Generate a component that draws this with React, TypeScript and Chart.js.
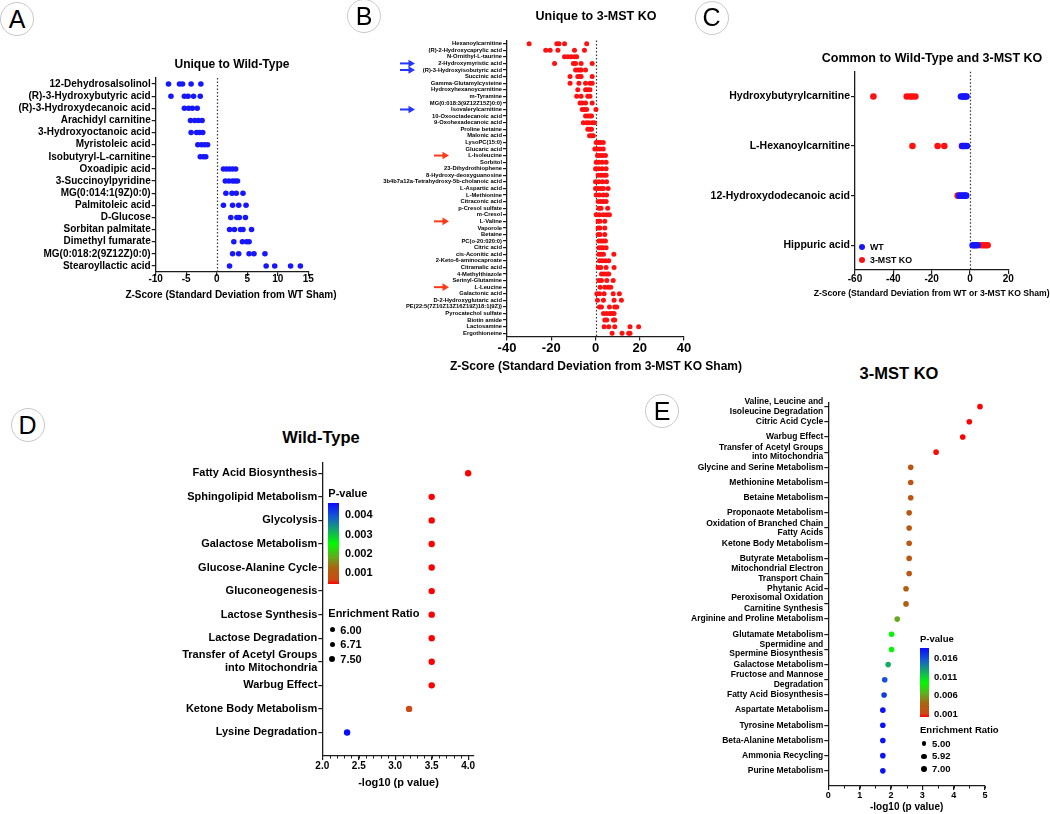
import React, { useEffect, useRef } from 'react';
import { Chart, registerables } from 'chart.js';

Chart.register(...registerables);

const FONT = "'Liberation Sans', Arial, Helvetica, sans-serif";
Chart.defaults.font.family = FONT;
Chart.defaults.color = '#000';

// ---------------- DATA ----------------
const aLabels = [
  '12-Dehydrosalsolinol', '(R)-3-Hydroxybutyric acid', '(R)-3-Hydroxydecanoic acid', 'Arachidyl carnitine',
  '3-Hydroxyoctanoic acid', 'Myristoleic acid', 'Isobutyryl-L-carnitine', 'Oxoadipic acid', '3-Succinoylpyridine',
  'MG(0:014:1(9Z)0:0)', 'Palmitoleic acid', 'D-Glucose', 'Sorbitan palmitate', 'Dimethyl fumarate',
  'MG(0:018:2(9Z12Z)0:0)', 'Stearoyllactic acid',
];
const aValues = [
  [-7.9, -6.1, -5.6, -4.2, -2.6],
  [-7.5, -5.3, -4.7, -3.8, -2.7],
  [-5.3, -4.6, -4.0, -3.2],
  [-4.3, -3.6, -3.0, -2.4],
  [-4.2, -3.3, -2.8, -2.3],
  [-3.1, -2.5, -2.0, -1.5],
  [-2.7, -2.2, -1.8],
  [1.1, 1.6, 2.1, 2.6, 3.1],
  [1.4, 2.0, 2.6, 3.0, 3.4],
  [1.5, 2.5, 3.2, 4.3],
  [1.1, 2.6, 3.6, 4.8],
  [2.3, 3.3, 3.7, 4.7],
  [2.1, 2.9, 3.9, 4.3, 5.7],
  [2.8, 4.2, 4.9, 5.3],
  [2.6, 3.6, 5.3, 6.1, 7.9],
  [2.1, 8.1, 9.5, 12.1, 13.7],
];
const aXTitle = 'Z-Score (Standard Deviation from WT Sham)';

const bLabels = [
  'Hexanoylcarnitine', '(R)-2-Hydroxycaprylic acid', 'N-Ornithyl-L-taurine', '2-Hydroxymyristic acid',
  '(R)-3-Hydroxyisobutyric acid', 'Succinic acid', 'Gamma-Glutamylcysteine', 'Hydroxyhexanoycarnitine',
  'm-Tyramine', 'MG(0:018:3(9Z12Z15Z)0:0)', 'Isovalerylcarnitine', '10-Oxooctadecanoic acid',
  '9-Oxohexadecanoic acid', 'Proline betaine', 'Malonic acid', 'LysoPC(15:0)', 'Glucaric acid', 'L-Isoleucine',
  'Sorbitol', '23-Dihydrothiophene', '8-Hydroxy-deoxyguanosine', '3b4b7a12a-Tetrahydroxy-5b-cholanoic acid',
  'L-Aspartic acid', 'L-Methionine', 'Citraconic acid', 'p-Cresol sulfate', 'm-Cresol', 'L-Valine', 'Vaporole',
  'Betaine', 'PC(o-20:020:0)', 'Citric acid', 'cis-Aconitic acid', '2-Keto-6-aminocaproate', 'Citramalic acid',
  '4-Methylthiazole', 'Serinyl-Glutamine', 'L-Leucine', 'Galactonic acid', 'D-2-Hydroxyglutaric acid',
  'PE(22:5(7Z10Z13Z16Z19Z)18:1(9Z))', 'Pyrocatechol sulfate', 'Biotin amide', 'Lactosamine', 'Ergothioneine',
];
const bValues = [
  [-30, -17.5, -16.5, -14, -4],
  [-22.5, -20.5, -17, -9.5, -5],
  [-14, -12.5, -11, -9.5, -8.5],
  [-18.5, -10, -9, -6.5, -1.5],
  [-9, -8, -7, -6.5, -4.5],
  [-11.5, -8, -7, -6.5, -1.5],
  [-11.5, -7.5, -4.5, -2.5, -1.5],
  [-8, -4.5, -3.5, -2.5],
  [-8.5, -6.5, -3.5, -2.5],
  [-7, -6, -4.5, -1.5],
  [-6, -5, -4, 0.2],
  [-4.5, -3.5, -2.5, -1.8],
  [-5.5, -4, -3, -1.5, -0.5],
  [-3.5, -2.5, -1.8],
  [-2.7, -1.8, -1],
  [0.3, 1.2, 2.2, 3.5],
  [-0.3, 0.8, 2.0, 3.5],
  [0.9, 2.0, 3.2, 4.5],
  [0.3, 1.5, 3.0, 4.8],
  [0, 1.5, 3, 4.8],
  [1.2, 2.5, 3.8, 4.8],
  [0, 1.5, 3.2, 5],
  [0, 1.2, 2.5, 3.6, 5.7],
  [0.3, 1.8, 3.5, 5],
  [1.2, 2.4, 3.6, 4.8],
  [1.5, 2.5, 5.5],
  [0.3, 1.8, 3.5, 5, 6.3],
  [1.2, 2, 4.2],
  [1.2, 2, 4.2],
  [1.2, 2, 4.2],
  [1.5, 2.5, 3.5, 4.5],
  [1.5, 2.5, 3.5, 4.8],
  [1.5, 2.5, 3.6, 8.3],
  [1.8, 3, 4.5, 6],
  [1.2, 2.4, 4.8, 8.4],
  [2.7, 3.8, 5, 6],
  [1.5, 2.7, 5.1, 8],
  [2.1, 4.2, 5.7, 6.9],
  [0.6, 1.8, 3.9, 8, 10.8],
  [0.9, 3.6, 8.4, 11.7],
  [1.8, 2.7, 6.3, 8.7, 9.6],
  [3.6, 5, 6.5, 7.5, 8.4],
  [4.2, 5.1, 8.1, 8.7],
  [3.9, 6, 8.7, 15.6, 19.5],
  [7.5, 12, 15, 15.6],
];
const bBlueArrows = ['2-Hydroxymyristic acid', '(R)-3-Hydroxyisobutyric acid', 'Isovalerylcarnitine'];
const bRedArrows = ['L-Isoleucine', 'L-Valine', 'L-Leucine'];
const bXTitle = 'Z-Score (Standard Deviation from 3-MST KO Sham)';

const cLabels = ['Hydroxybutyrylcarnitine', 'L-Hexanoylcarnitine', '12-Hydroxydodecanoic acid', 'Hippuric acid'];
const cWT = [
  [-4.7, -3.8, -3, -2.4, -1.8],
  [-4, -3.2, -2.5, -1.6],
  [-5.5, -4.5, -3.5, -2.8, -2],
  [1.4, 2.2, 3, 4],
];
const cKO = [
  [-50.4, -33, -31.3, -30, -28.5],
  [-30, -16.9, -13.4, -4.2],
  [-6.4],
  [5.7, 7, 8.2, 9.2],
];
const cSeries = ['WT', '3-MST KO'];
const cXTitle = 'Z-Score (Standard Deviation from WT or 3-MST KO Sham)';

const dLabels = [
  'Fatty Acid Biosynthesis', 'Sphingolipid Metabolism', 'Glycolysis', 'Galactose Metabolism',
  'Glucose-Alanine Cycle', 'Gluconeogenesis', 'Lactose Synthesis', 'Lactose Degradation',
  'Transfer of Acetyl Groups\ninto Mitochondria', 'Warbug Effect', 'Ketone Body Metabolism', 'Lysine Degradation',
];
const dLog10P = [4.0, 3.5, 3.5, 3.5, 3.5, 3.5, 3.5, 3.5, 3.5, 3.5, 3.19, 2.34];
const dXTicks = [2.0, 2.5, 3.0, 3.5, 4.0];
const dPTicks = ['0.004', '0.003', '0.002', '0.001'];
const dRatioTicks = ['6.00', '6.71', '7.50'];

const eLabels = [
  'Valine, Leucine and\nIsoleucine Degradation', 'Citric Acid Cycle', 'Warbug Effect',
  'Transfer of Acetyl Groups\ninto Mitochondria', 'Glycine and Serine Metabolism', 'Methionine Metabolism',
  'Betaine Metabolism', 'Proponaote Metabolism', 'Oxidation of Branched Chain\nFatty Acids',
  'Ketone Body Metabolism', 'Butyrate Metabolism', 'Mitochondrial Electron\nTransport Chain',
  '\nPhytanic Acid\nPeroxisomal Oxidation', '\nCarnitine Synthesis', 'Arginine and Proline Metabolism',
  'Glutamate Metabolism', 'Spermidine and\nSpermine Biosynthesis', 'Galactose Metabolism',
  'Fructose and Mannose\nDegradation', 'Fatty Acid Biosynthesis', 'Aspartate Metabolism', 'Tyrosine Metabolism',
  'Beta-Alanine Metabolism', 'Ammonia Recycling', 'Purine Metabolism',
];
const eLog10P = [
  4.84, 4.50, 4.29, 3.44, 2.63, 2.63, 2.63, 2.58, 2.58, 2.58, 2.58, 2.58, 2.48, 2.48, 2.20,
  2.02, 2.02, 1.91, 1.80, 1.78, 1.74, 1.74, 1.74, 1.74, 1.74,
];
const ePTicks = ['0.016', '0.011', '0.006', '0.001'];
const eRatioTicks = ['5.00', '5.92', '7.00'];
const pathwayXTitle = '-log10 (p value)';

// ---------------- STYLE ----------------
const BLUE = '#1616ff';
const RED = '#ff1111';
const AXIS = '#1c1c1c';
const STOPS: [number, number[]][] = [
  [0, [255, 0, 0]],
  [0.05, [205, 72, 20]],
  [0.2, [170, 100, 15]],
  [0.33, [100, 170, 30]],
  [0.5, [0, 250, 0]],
  [0.66, [20, 170, 100]],
  [0.83, [20, 90, 210]],
  [1, [10, 10, 255]],
];
function rampColor(t: number) {
  const tt = Math.max(0, Math.min(1, t));
  for (let i = 1; i < STOPS.length; i++) {
    const [t1, c1] = STOPS[i];
    const [t0, c0] = STOPS[i - 1];
    if (tt <= t1) {
      const f = (tt - t0) / (t1 - t0);
      const c = c0.map((v, k) => Math.round(v + (c1[k] - v) * f));
      return `rgb(${c.join(',')})`;
    }
  }
  return 'rgb(10,10,255)';
}
const rampCss = 'linear-gradient(to top, ' + STOPS.map(([t, c]) => `rgb(${c.join(',')}) ${t * 100}%`).join(', ') + ')';
const pColor = (log10p: number, lo: number, hi: number) => rampColor((Math.pow(10, -log10p) - lo) / (hi - lo));

const font = (size: number, lh = 1.2) => ({ family: FONT, size, weight: 'bold' as const, lineHeight: lh });
const gridOpts = () => ({ display: true, drawOnChartArea: false, drawTicks: true, tickLength: 4, color: AXIS, lineWidth: 1.2, offset: false });
const borderOpts = () => ({ display: true, color: AXIS, width: 1.3 });

function rowPoints(labels: string[], values: number[][]) {
  const pts: { x: number; y: string }[] = [];
  labels.forEach((l, i) => values[i].forEach((v) => pts.push({ x: v, y: l })));
  return pts;
}

const zeroLine = {
  id: 'zeroLine',
  beforeDatasetsDraw(chart: any) {
    const { ctx, chartArea, scales } = chart;
    const px = Math.round(scales.x.getPixelForValue(0)) + 0.5;
    ctx.save();
    ctx.strokeStyle = '#333';
    ctx.lineWidth = 1.2;
    ctx.setLineDash([1.5, 2]);
    ctx.beginPath();
    ctx.moveTo(px, chartArea.top);
    ctx.lineTo(px, chartArea.bottom);
    ctx.stroke();
    ctx.restore();
  },
};

const minorTicks = (start: number, end: number, step: number) => ({
  id: 'minorTicks',
  afterDraw(chart: any) {
    const { ctx, chartArea, scales } = chart;
    ctx.save();
    ctx.strokeStyle = AXIS;
    ctx.lineWidth = 1;
    ctx.beginPath();
    for (let v = start; v <= end + 1e-9; v += step) {
      const px = Math.round(scales.x.getPixelForValue(v)) + 0.5;
      ctx.moveTo(px, chartArea.bottom);
      ctx.lineTo(px, chartArea.bottom + 2.5);
    }
    ctx.stroke();
    ctx.restore();
  },
});

const bArrows = {
  id: 'bArrows',
  afterDraw(chart: any) {
    const { ctx, scales } = chart;
    const draw = (name: string, x0: number, x1: number, color: string) => {
      const y = scales.y.getPixelForValue(bLabels.indexOf(name));
      ctx.save();
      ctx.strokeStyle = color;
      ctx.fillStyle = color;
      ctx.lineWidth = 2;
      ctx.beginPath();
      ctx.moveTo(x0, y);
      ctx.lineTo(x1 - 5, y);
      ctx.stroke();
      ctx.beginPath();
      ctx.moveTo(x1, y);
      ctx.lineTo(x1 - 6.5, y - 3.8);
      ctx.lineTo(x1 - 6.5, y + 3.8);
      ctx.closePath();
      ctx.fill();
      ctx.restore();
    };
    bBlueArrows.forEach((n) => draw(n, 55, 70, '#2536ff'));
    bRedArrows.forEach((n) => draw(n, 89, 104, '#ff3a1a'));
  },
};

type Box = { left: number; top: number; width: number; height: number };
type Area = { l: number; r: number; t: number; b: number };

function baseOptions(box: Box, area: Area) {
  return {
    animation: false,
    responsive: false,
    maintainAspectRatio: false,
    events: [],
    layout: {
      padding: { left: 0, top: area.t - box.top, right: box.left + box.width - area.r, bottom: 0 },
    },
    plugins: { legend: { display: false }, tooltip: { enabled: false }, title: { display: false } },
  };
}

function xAxis(box: Box, area: Area, min: number, max: number, step: number, tickSize: number, tickPad: number) {
  return {
    type: 'linear',
    min,
    max,
    ticks: { stepSize: step, font: font(tickSize), padding: tickPad, maxRotation: 0, minRotation: 0, autoSkip: false, color: '#000' },
    grid: gridOpts(),
    border: borderOpts(),
    title: { display: false },
    afterFit: (s: any) => {
      s.height = box.top + box.height - area.b;
    },
  };
}

function catAxis(box: Box, area: Area, labels: string[], size: number) {
  return {
    type: 'category',
    labels,
    offset: true,
    ticks: { autoSkip: false, font: font(size), padding: 1, color: '#000' },
    grid: gridOpts(),
    border: borderOpts(),
    afterFit: (s: any) => {
      s.width = area.l - box.left;
    },
  };
}

function rowAxis(box: Box, area: Area, labels: string[], size: number, lh: number, min: number, max: number) {
  return {
    type: 'linear',
    reverse: true,
    min,
    max,
    afterBuildTicks: (s: any) => {
      s.ticks = labels.map((_, i) => ({ value: i + 1 }));
    },
    ticks: {
      autoSkip: false,
      font: font(size, lh),
      padding: 1,
      color: '#000',
      callback: (v: number) => {
        const l = labels[Math.round(v) - 1];
        return l ? l.split('\n') : '';
      },
    },
    grid: gridOpts(),
    border: borderOpts(),
    afterFit: (s: any) => {
      s.width = area.l - box.left;
    },
  };
}

// ---------------- PANELS ----------------
const boxA: Box = { left: 0, top: 40, width: 345, height: 275 };
const areaA: Area = { l: 155.7, r: 308.3, t: 78, b: 272 };
const cfgA = () => ({
  type: 'scatter',
  data: { datasets: [{ data: rowPoints(aLabels, aValues), pointRadius: 2.8, pointBackgroundColor: BLUE, pointBorderWidth: 0 }] },
  options: {
    ...baseOptions(boxA, areaA),
    scales: {
      x: xAxis(boxA, areaA, -10, 15, 5, 10, -3),
      y: catAxis(boxA, areaA, aLabels, 10),
    },
  },
  plugins: [zeroLine],
});

const boxB: Box = { left: 345, top: 30, width: 350, height: 345 };
const areaB: Area = { l: 507, r: 684, t: 40.4, b: 336.5 };
const cfgB = () => ({
  type: 'scatter',
  data: { datasets: [{ data: rowPoints(bLabels, bValues), pointRadius: 2.5, pointBackgroundColor: RED, pointBorderWidth: 0 }] },
  options: {
    ...baseOptions(boxB, areaB),
    scales: {
      x: xAxis(boxB, areaB, -40, 40, 20, 13, 0),
      y: catAxis(boxB, areaB, bLabels, 5.8),
    },
  },
  plugins: [zeroLine, bArrows],
});

const boxC: Box = { left: 690, top: 60, width: 360, height: 240 };
const areaC: Area = { l: 855, r: 1008.3, t: 71.7, b: 270 };
const cfgC = () => ({
  type: 'scatter',
  data: {
    datasets: [
      { label: cSeries[0], data: rowPoints(cLabels, cWT), pointRadius: 3.3, pointBackgroundColor: BLUE, pointBorderWidth: 0 },
      { label: cSeries[1], data: rowPoints(cLabels, cKO), pointRadius: 3.3, pointBackgroundColor: RED, pointBorderWidth: 0 },
    ],
  },
  options: {
    ...baseOptions(boxC, areaC),
    scales: {
      x: xAxis(boxC, areaC, -60, 20, 20, 10, -1),
      y: catAxis(boxC, areaC, cLabels, 10.5),
    },
  },
  plugins: [zeroLine],
});

const D_LO = 0.0004;
const D_HI = 0.0046;
const boxD: Box = { left: 180, top: 450, width: 320, height: 340 };
const areaD: Area = { l: 322.3, r: 474, t: 462.7, b: 756 };
const cfgD = () => {
  const x: any = xAxis(boxD, areaD, 2.0, 4.08, 0.5, 10, 0);
  x.afterBuildTicks = (s: any) => {
    s.ticks = dXTicks.map((v) => ({ value: v }));
  };
  x.ticks.callback = (v: number) => v.toFixed(1);
  return {
    type: 'scatter',
    data: {
      datasets: [
        {
          data: dLog10P.map((v, i) => ({ x: v, y: i + 1 })),
          pointRadius: 3.2,
          pointBackgroundColor: dLog10P.map((v) => pColor(v, D_LO, D_HI)),
          pointBorderWidth: 0,
        },
      ],
    },
    options: {
      ...baseOptions(boxD, areaD),
      scales: { x, y: rowAxis(boxD, areaD, dLabels, 11, 1.15, 0.55, 13) },
    },
    plugins: [minorTicks(2.0, 4.0, 0.1)],
  };
};

const E_LO = 0.0002;
const E_HI = 0.0186;
const boxE: Box = { left: 640, top: 385, width: 410, height: 429 };
const areaE: Area = { l: 828.3, r: 985, t: 402.7, b: 786 };
const cfgE = () => ({
  type: 'scatter',
  data: {
    datasets: [
      {
        data: eLog10P.map((v, i) => ({ x: v, y: i + 1 })),
        pointRadius: 2.8,
        pointBackgroundColor: eLog10P.map((v) => pColor(v, E_LO, E_HI)),
        pointBorderWidth: 0,
      },
    ],
  },
  options: {
    ...baseOptions(boxE, areaE),
    scales: {
      x: xAxis(boxE, areaE, 0, 5, 1, 9, 0),
      y: rowAxis(boxE, areaE, eLabels, 8.5, 1.1, 0.74, 26),
    },
  },
  plugins: [minorTicks(0, 5, 0.5)],
});

// ---------------- COMPONENTS ----------------
function ChartCanvas({ box, make }: { box: Box; make: () => any }) {
  const ref = useRef<HTMLCanvasElement>(null);
  useEffect(() => {
    const chart = new Chart(ref.current as HTMLCanvasElement, make());
    return () => chart.destroy();
  }, []);
  return (
    <canvas
      ref={ref}
      width={box.width}
      height={box.height}
      style={{ position: 'absolute', left: box.left, top: box.top, width: box.width, height: box.height }}
    />
  );
}

function Txt({ x, y, size, children, align = 'center' }: { x: number; y: number; size: number; children: any; align?: string }) {
  return (
    <div
      style={{
        position: 'absolute',
        left: x,
        top: y,
        transform: align === 'center' ? 'translate(-50%, -50%)' : 'translate(0, -50%)',
        fontSize: size,
        fontWeight: 700,
        fontFamily: FONT,
        lineHeight: 1,
        whiteSpace: 'nowrap',
        color: '#000',
      }}
    >
      {children}
    </div>
  );
}

function Dot({ x, y, r, color }: { x: number; y: number; r: number; color: string }) {
  return (
    <div style={{ position: 'absolute', left: x - r, top: y - r, width: 2 * r, height: 2 * r, borderRadius: '50%', background: color }} />
  );
}

function Letter({ x, y, ch }: { x: number; y: number; ch: string }) {
  return (
    <div
      style={{
        position: 'absolute',
        left: x - 17,
        top: y - 17,
        width: 34,
        height: 34,
        borderRadius: '50%',
        border: '1px solid #c8c8c8',
        boxSizing: 'border-box',
        display: 'flex',
        alignItems: 'center',
        justifyContent: 'center',
        fontSize: 25,
        fontFamily: FONT,
        color: '#000',
        lineHeight: 1,
      }}
    >
      {ch}
    </div>
  );
}

function PLegend({ x, titleY, barTop, barH, barW, tickYs, tickLabels, labelX, ratioY, dotYs, dotRs, ratioLabels, size }: any) {
  return (
    <>
      <Txt x={x} y={titleY} size={size} align="left">P-value</Txt>
      <div style={{ position: 'absolute', left: x, top: barTop, width: barW, height: barH, background: rampCss }} />
      {tickLabels.map((t: string, i: number) => (
        <Txt key={t} x={labelX} y={tickYs[i]} size={size} align="left">{t}</Txt>
      ))}
      <Txt x={x} y={ratioY} size={size} align="left">Enrichment Ratio</Txt>
      {ratioLabels.map((t: string, i: number) => (
        <React.Fragment key={t}>
          <Dot x={x + 4} y={dotYs[i]} r={dotRs[i]} color="#000" />
          <Txt x={x + 12} y={dotYs[i]} size={size} align="left">{t}</Txt>
        </React.Fragment>
      ))}
    </>
  );
}

export default function App() {
  return (
    <div style={{ position: 'fixed', left: 0, top: 0, width: 1050, height: 814, background: '#fff', overflow: 'hidden' }}>
      <ChartCanvas box={boxA} make={cfgA} />
      <ChartCanvas box={boxB} make={cfgB} />
      <ChartCanvas box={boxC} make={cfgC} />
      <ChartCanvas box={boxD} make={cfgD} />
      <ChartCanvas box={boxE} make={cfgE} />

      <Letter x={17} y={19} ch="A" />
      <Letter x={364} y={16} ch="B" />
      <Letter x={711.5} y={17.5} ch="C" />
      <Letter x={27.5} y={425} ch="D" />
      <Letter x={662} y={411} ch="E" />

      <Txt x={232} y={64} size={12}>Unique to Wild-Type</Txt>
      <Txt x={596} y={16} size={12.5}>Unique to 3-MST KO</Txt>
      <Txt x={932} y={58} size={12.5}>Common to Wild-Type and 3-MST KO</Txt>
      <Txt x={321} y={437} size={16.5}>Wild-Type</Txt>
      <Txt x={899} y={373} size={16.5}>3-MST KO</Txt>

      <Txt x={231} y={295} size={10}>{aXTitle}</Txt>
      <Txt x={596} y={366} size={12}>{bXTitle}</Txt>
      <Txt x={931.7} y={293} size={8.6}>{cXTitle}</Txt>
      <Txt x={398.5} y={781.7} size={11}>{pathwayXTitle}</Txt>
      <Txt x={906.7} y={806.5} size={10}>{pathwayXTitle}</Txt>

      <Dot x={862} y={247} r={3.3} color={BLUE} />
      <Txt x={870} y={247} size={8.8} align="left">{cSeries[0]}</Txt>
      <Dot x={862} y={260} r={3.3} color={RED} />
      <Txt x={870} y={260} size={8.8} align="left">{cSeries[1]}</Txt>

      <PLegend
        x={328.3}
        titleY={492.7}
        barTop={503.3}
        barH={80.7}
        barW={11}
        tickYs={[514.3, 533.7, 553, 572.3]}
        tickLabels={dPTicks}
        labelX={345}
        ratioY={613.3}
        dotYs={[629.7, 644.3, 659]}
        dotRs={[2.6, 2.8, 3.0]}
        ratioLabels={dRatioTicks}
        size={11}
      />
      <PLegend
        x={920}
        titleY={639}
        barTop={648}
        barH={69}
        barW={9.3}
        tickYs={[657.7, 676.7, 695.3, 714]}
        tickLabels={ePTicks}
        labelX={934}
        ratioY={730}
        dotYs={[743.7, 756.3, 768.7]}
        dotRs={[2.3, 2.6, 2.9]}
        ratioLabels={eRatioTicks}
        size={9.5}
      />
    </div>
  );
}
